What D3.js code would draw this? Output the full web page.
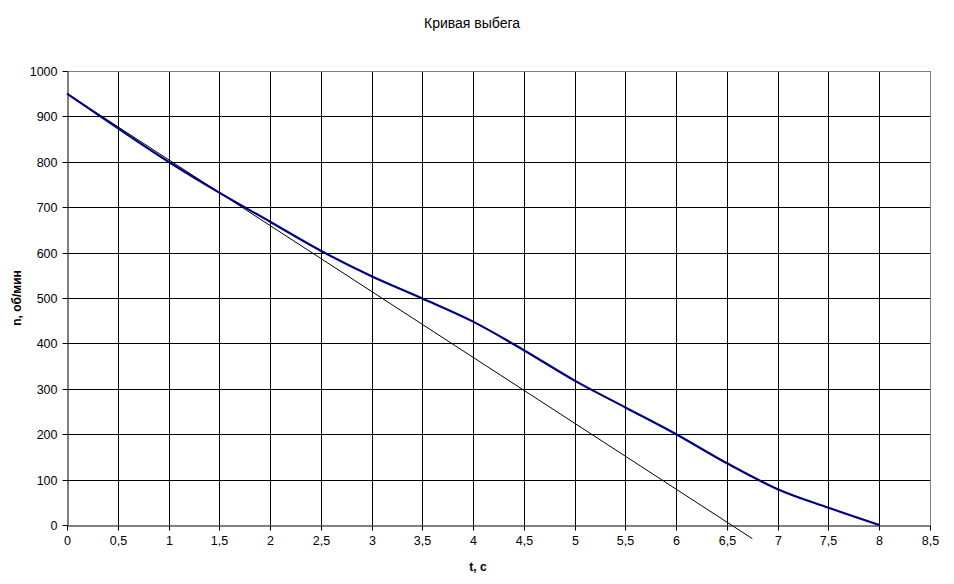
<!DOCTYPE html>
<html><head><meta charset="utf-8">
<script src="https://cdn.jsdelivr.net/npm/d3@7"></script>
<style>body{margin:0;background:#fff}svg{display:block}text{font-family:"Liberation Sans",Arial,sans-serif}</style>
</head><body>
<script>
const title = "Кривая выбега";
const xLabel = "t, c";
const yLabel = "n, об/мин";
const times = [0,0.5,1,1.5,2,2.5,3,3.5,4,4.5,5,5.5,6,6.5,7,7.5,8];
const speeds = [950,874,800,732,668,604,548,499,448,385,318,259,200,136,79,38,0];
const tangentT = [0, 6.75];
const tangentN = [950, -30];
const xTicks = [0,0.5,1,1.5,2,2.5,3,3.5,4,4.5,5,5.5,6,6.5,7,7.5,8,8.5];
const yTicks = [0,100,200,300,400,500,600,700,800,900,1000];

const W=954,H=584;
const m={left:67,right:24,top:71,bottom:59};
const svg=d3.select("body").append("svg").attr("width",W).attr("height",H);
const x=d3.scaleLinear().domain([0,8.5]).range([m.left,W-m.right]);
const y=d3.scaleLinear().domain([0,1000]).range([H-m.bottom,m.top]);
const fmt=d=>String(d).replace(".",",");

// grid
svg.append("g").selectAll("line").data(xTicks.slice(1,-1)).join("line")
  .attr("x1",d=>Math.round(x(d))+0.5).attr("x2",d=>Math.round(x(d))+0.5)
  .attr("y1",y(1000)).attr("y2",y(0)).attr("stroke","#000").attr("stroke-width",1);
svg.append("g").selectAll("line").data(yTicks.slice(1,-1)).join("line")
  .attr("y1",d=>Math.round(y(d))+0.5).attr("y2",d=>Math.round(y(d))+0.5)
  .attr("x1",x(0)).attr("x2",x(8.5)).attr("stroke","#000").attr("stroke-width",1);
// plot border (gray top/right)
svg.append("line").attr("x1",x(0)).attr("x2",x(8.5)).attr("y1",Math.round(y(1000))+0.5).attr("y2",Math.round(y(1000))+0.5).attr("stroke","#808080");
svg.append("line").attr("x1",Math.round(x(8.5))+0.5).attr("x2",Math.round(x(8.5))+0.5).attr("y1",y(1000)).attr("y2",y(0)).attr("stroke","#808080");

// axes
const xAxis=svg.append("g").attr("transform",`translate(0,${Math.round(y(0))+0.5})`)
  .call(d3.axisBottom(x).tickValues(xTicks).tickFormat(fmt).tickSize(5).tickPadding(6).tickSizeOuter(0));
const yAxis=svg.append("g").attr("transform",`translate(${Math.round(x(0))+0.5},0)`)
  .call(d3.axisLeft(y).tickValues(yTicks).tickFormat(d=>String(d)).tickSize(5).tickPadding(5).tickSizeOuter(0));
[xAxis,yAxis].forEach(g=>{
  g.select(".domain").attr("stroke","#000");
  g.selectAll(".tick line").attr("stroke","#000");
  g.selectAll(".tick text").attr("font-size",12.5).attr("fill","#000").attr("font-family","Liberation Sans, Arial, sans-serif");
});
xAxis.selectAll(".tick").attr("transform",d=>`translate(${Math.round(x(d))+0.5},0)`);
yAxis.selectAll(".tick").attr("transform",d=>`translate(0,${Math.round(y(d))+0.5})`);

// tangent line
const line=d3.line().x(d=>x(d[0])).y(d=>y(d[1]));
svg.append("path").datum(d3.zip(tangentT,tangentN)).attr("d",line)
  .attr("fill","none").attr("stroke","#000").attr("stroke-width",1);
// data curve
svg.append("path").datum(d3.zip(times,speeds)).attr("d",line.curve(d3.curveMonotoneX))
  .attr("fill","none").attr("stroke","#000080").attr("stroke-width",2.2);

// titles
svg.append("text").attr("x",472).attr("y",28).attr("text-anchor","middle").attr("font-size",14).text(title);
svg.append("text").attr("x",478).attr("y",571).attr("text-anchor","middle").attr("font-size",12).attr("font-weight","bold").text(xLabel);
svg.append("text").attr("transform",`translate(21,${(y(0)+y(1000))/2}) rotate(-90)`).attr("text-anchor","middle").attr("font-size",12).attr("font-weight","bold").text(yLabel);
</script>
</body></html>
